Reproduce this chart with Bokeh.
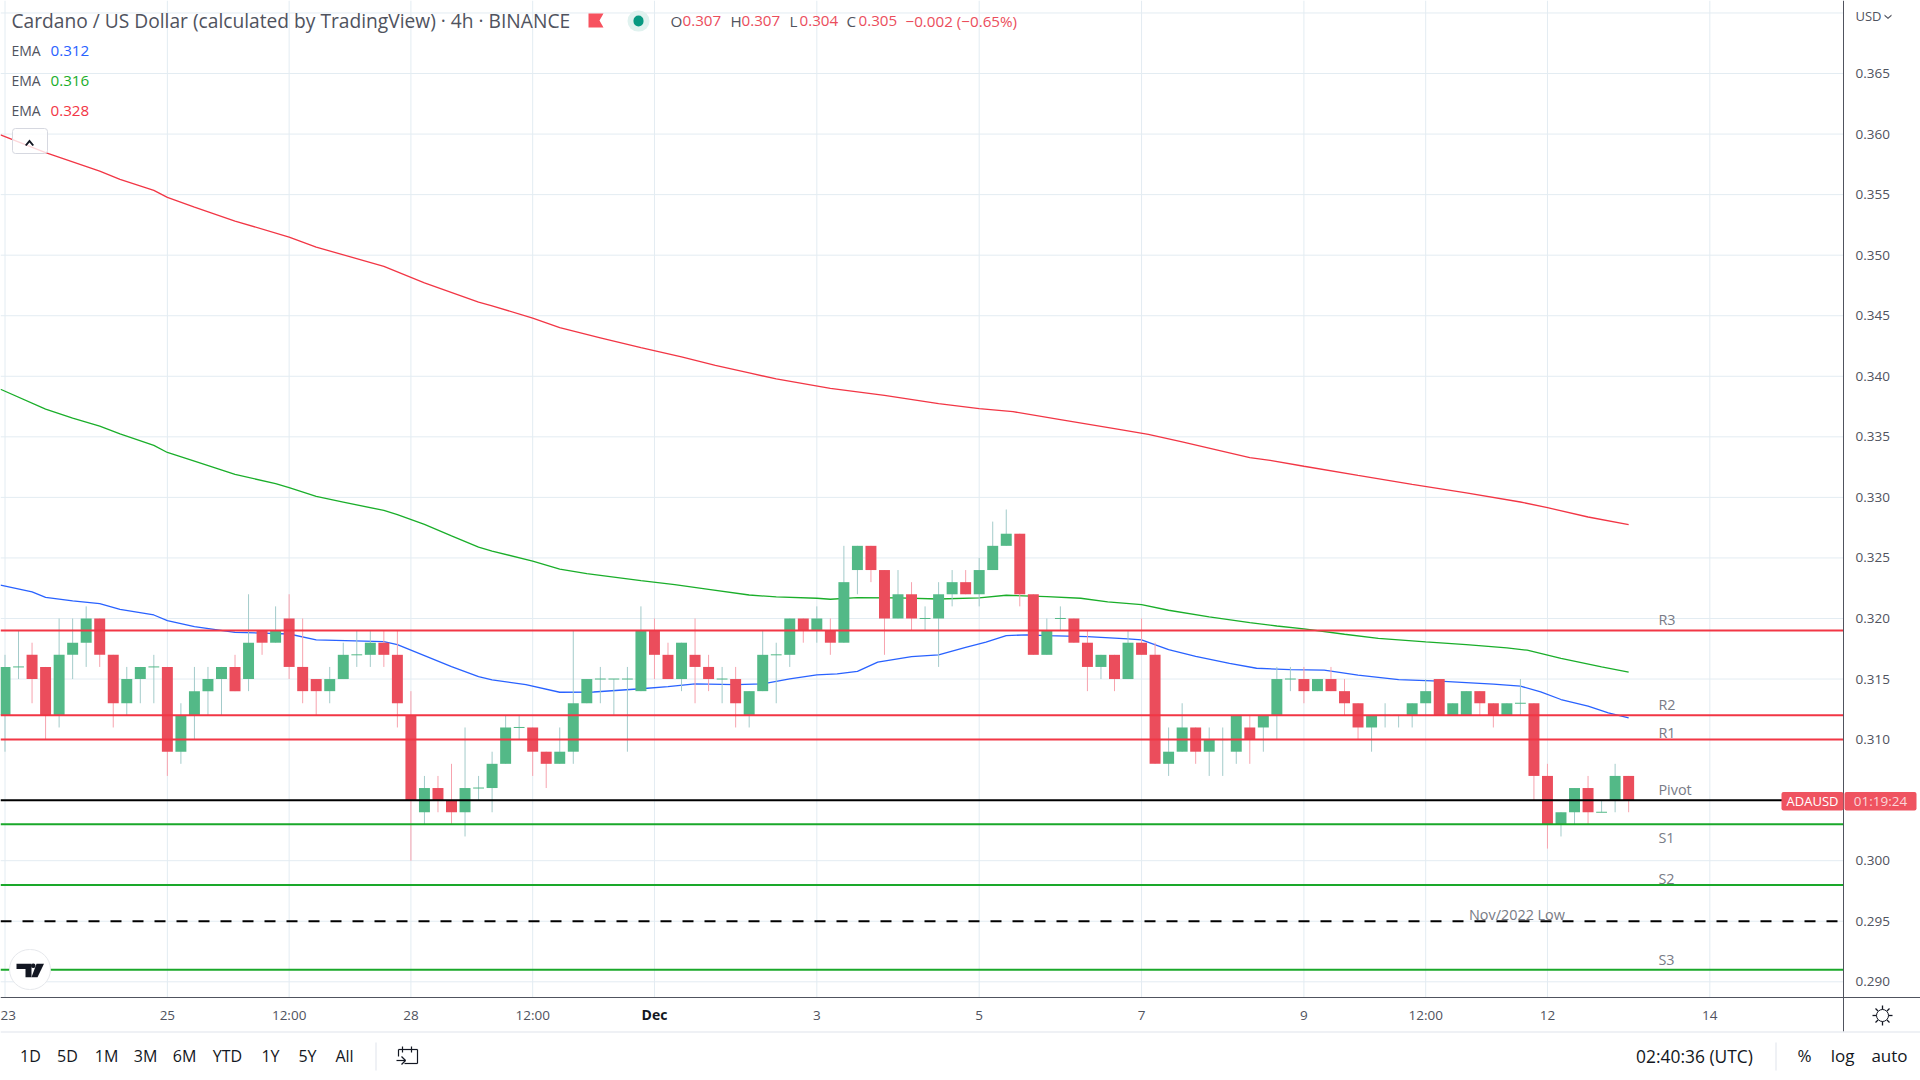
from bokeh.plotting import figure
from bokeh.models import Label, BoxAnnotation, PolyAnnotation, FixedTicker, PrintfTickFormatter
from bokeh.embed import file_html
from bokeh.resources import INLINE

# ---------- data ----------
candle_open = [.312,.316,.317,.316,.312,.317,.318,.320,.317,.313,.315,.316,.316,.309,.312,.314,.315,.316,.315,.319,.318,.320,.316,.315,.314,.315,.317,.317,.318,.317,
 .312,.304,.306,.305,.304,.306,.306,.308,.311,.311,.309,.308,.309,.313,.315,.315,.315,.314,.319,.317,.315,.317,.316,.315,.315,.312,.314,.317,.317,.320,
 .319,.319,.318,.324,.326,.324,.320,.322,.320,.320,.322,.323,.322,.324,.326,.327,.322,.317,.320,.320,.318,.316,.317,.315,.318,.317,.308,.309,.311,.309,
 .310,.309,.311,.311,.312,.315,.315,.314,.315,.314,.313,.311,.312,.312,.312,.313,.315,.312,.312,.314,.313,.312,.313,.313,.307,.303,.304,.306,.304,.305,.307]
candle_close = [.316,.316,.315,.312,.317,.318,.320,.317,.313,.315,.316,.316,.309,.312,.314,.315,.316,.314,.318,.318,.319,.316,.314,.314,.315,.317,.317,.318,.317,.313,
 .305,.306,.305,.304,.306,.306,.308,.311,.311,.309,.308,.309,.313,.315,.315,.315,.315,.319,.317,.315,.318,.316,.315,.315,.313,.314,.317,.317,.320,.319,
 .320,.318,.323,.326,.324,.320,.322,.320,.320,.322,.323,.322,.324,.326,.327,.322,.317,.319,.320,.318,.316,.317,.315,.318,.317,.308,.309,.311,.309,.310,
 .310,.312,.310,.312,.315,.315,.314,.315,.314,.313,.311,.312,.312,.312,.313,.314,.312,.313,.314,.313,.312,.313,.313,.307,.303,.304,.306,.304,.304,.307,.305]
candle_high = [.317,.319,.318,.316,.320,.320,.321,.320,.317,.316,.316,.317,.316,.313,.316,.316,.316,.317,.322,.319,.321,.322,.320,.315,.316,.318,.319,.319,.319,.319,
 .314,.307,.307,.308,.311,.307,.309,.312,.312,.311,.309,.311,.319,.315,.316,.315,.316,.321,.320,.318,.318,.320,.317,.316,.316,.314,.319,.318,.320,.320,
 .321,.320,.326,.326,.326,.324,.324,.323,.321,.323,.324,.324,.325,.328,.329,.327,.322,.320,.321,.320,.319,.317,.317,.319,.320,.318,.311,.313,.311,.311,
 .311,.312,.312,.312,.316,.316,.316,.315,.316,.315,.313,.312,.313,.312,.313,.315,.315,.313,.314,.314,.313,.313,.315,.313,.308,.304,.306,.307,.305,.308,.307]
candle_low = [.309,.315,.313,.310,.311,.315,.316,.316,.311,.312,.313,.313,.307,.308,.310,.312,.312,.314,.314,.317,.318,.315,.313,.312,.313,.315,.316,.316,.316,.311,
 .300,.303,.304,.303,.302,.305,.304,.308,.310,.307,.306,.308,.308,.313,.313,.312,.309,.314,.315,.315,.314,.313,.314,.313,.311,.311,.314,.313,.316,.318,
 .318,.317,.318,.322,.323,.317,.320,.319,.319,.316,.321,.322,.321,.324,.326,.321,.317,.317,.319,.318,.314,.315,.314,.315,.317,.308,.307,.309,.308,.307,
 .307,.308,.308,.309,.310,.314,.313,.314,.314,.312,.310,.309,.311,.311,.311,.312,.312,.312,.312,.312,.311,.312,.312,.305,.301,.302,.303,.303,.304,.304,.304]

ema_blue_x = [-0.33,2,3,5,7,8.5,11,12,14,17,21,23,28,29,31,33,35,36,38.5,41,43.5,47,49,51,54,56,58,60,61.5,63,64.5,67,69,71,72.5,74,75.5,77,80,83,84,86,88,90.5,92.5,95,97.5,100,103,106,110,112,113.5,115,117,118.5,120]
ema_blue = [.32275,.3222,.32175,.32145,.32123,.32076,.32029,.31983,.31933,.31886,.31872,.31823,.31809,.31784,.31694,.31603,.3152,.31493,.31454,.31391,.31393,.3142,.31438,.3146,.31454,.3146,.31501,.31534,.31542,.31564,.31639,.31685,.31699,.31762,.31804,.31859,.31864,.31859,.3185,.31831,.31823,.31743,.31688,.3163,.31589,.31578,.31573,.31532,.31496,.31483,.31458,.31441,.31394,.31331,.31276,.31221,.3118]
ema_green_x = [-0.33,3,5,7,8.5,11,12,14,17,20,21,23,25,28,29,31,33,35,36,39,41,43,47,49.5,52,55,57,60,61,63,66,69,72,74,77,79.5,81.5,84,86,89,92,94,96,99,101.5,105,108,111,112.5,115,118,120]
ema_green = [.33893,.33729,.33655,.33589,.33525,.33429,.33371,.333,.3319,.33113,.3308,.33008,.32961,.32892,.32857,.32777,.32683,.3259,.32557,.32474,.32408,.3237,.32312,.3228,.32241,.32194,.32178,.32167,.32159,.32172,.3217,.32161,.3217,.32192,.32181,.32167,.32137,.32114,.32068,.32013,.31966,.31938,.31915,.3187,.31835,.31807,.31785,.31758,.31738,.3167,.31601,.31557]
ema_red_x = [-0.33,3,7,8.5,11,12,14,17,21,23,28,31,35,36,39,41,44,47,50,52.5,55,57,61,65,69,72,74.5,78,82,84.5,87,92,93.5,96,100,104,108,112,114,117,120]
ema_red = [.35994,.35846,.35694,.35626,.35535,.35477,.35397,.35282,.35149,.35067,.34907,.34772,.34613,.34582,.3448,.34401,.34318,.34236,.3416,.34091,.34028,.33978,.33901,.33843,.33774,.33733,.33708,.33642,.33568,.33521,.33458,.33328,.33306,.33257,.33182,.33108,.33037,.32962,.32915,.32838,.32775]

level_red = [.319,.312,.310]
level_black = [.305]
level_green = [.303,.298,.291]
level_dashed = [.295]
level_names = ["R3","R2","R1","Pivot","S1","S2","S3","Nov/2022 Low"]
level_name_x = [122.2,122.2,122.2,122.2,122.2,122.2,122.2,108.2]
level_name_y = [.31988,.31292,.31058,.30584,.30188,.29851,.29182,.29552]

x_tick_pos = [0,12,21,30,39,48,60,72,84,96,105,114,126]
x_tick_txt = ["23","25","12:00","28","12:00","","3","5","7","9","12:00","12","14"]
y_tick_pos = [.290,.295,.300,.305,.310,.315,.320,.325,.330,.335,.340,.345,.350,.355,.360,.365]
y_grid_pos = y_tick_pos+[.370]
range_buttons = ["1D","5D","1M","3M","6M","YTD","1Y","5Y","All"]
range_button_px = [30,67,106,145,184,227,270,307,344]

UP="#53b987"; DOWN="#eb4d5c"; UPW="#a3cbca"; DOWNW="#f7a3ae"
LINE_RED="#f23645"; LINE_GREEN="#1aa82a"; GRID="#e3ecf2"; AXIS="#50535e"; MUTED="#787b86"; DARK="#131722"; BADGE="#ef5360"
FONT="Open Sans"

# the frame fills the page; scales keep 13.53 px per bar and 12110 px per dollar
X_LEFT,X_AXIS,X_RIGHT=-0.3326,135.88,141.57
Y_TOP,Y_AXIS,Y_SEP,Y_BOTTOM=.37103,.28870,.2859,.28185

p=figure(width=1920,height=1080,output_backend="svg",toolbar_location=None,
         x_range=(X_LEFT,X_RIGHT),y_range=(Y_BOTTOM,Y_TOP),
         min_border=0,background_fill_color="white",outline_line_color=None,y_axis_location="right")

# axes
xa=p.xaxis[0]; ya=p.yaxis[0]
xa.fixed_location=Y_AXIS; ya.fixed_location=X_AXIS
ya.bounds=(Y_SEP,Y_TOP)
xa.ticker=FixedTicker(ticks=x_tick_pos)
xa.major_label_overrides={k:v for k,v in zip(x_tick_pos,x_tick_txt)}
ya.ticker=FixedTicker(ticks=y_tick_pos)
ya.formatter=PrintfTickFormatter(format="%.3f")
for a in (xa,ya):
    a.major_tick_line_color=None; a.minor_tick_line_color=None
    a.axis_line_color=AXIS; a.axis_line_width=1
    a.major_label_text_font=FONT; a.major_label_text_font_size="13.5px"; a.major_label_text_color=AXIS
xa.major_label_standoff=2; ya.major_label_standoff=6
p.grid.grid_line_color=None

# grid limited to the pane
p.segment(x_tick_pos,[Y_AXIS]*len(x_tick_pos),x_tick_pos,[Y_TOP]*len(x_tick_pos),line_color=GRID,line_width=1)
p.segment([X_LEFT]*len(y_grid_pos),y_grid_pos,[X_AXIS]*len(y_grid_pos),y_grid_pos,line_color=GRID,line_width=1)

# EMAs below candles
p.line(ema_blue_x,ema_blue,line_color="#2962ff",line_width=1.3)
p.line(ema_green_x,ema_green,line_color="#1aae2a",line_width=1.3)
p.line(ema_red_x,ema_red,line_color="#f23645",line_width=1.3)

# candles
n=len(candle_open); idx=list(range(n))
wick_col=[UPW if c>=o else DOWNW for o,c in zip(candle_open,candle_close)]
p.segment(idx,candle_low,idx,candle_high,line_color=wick_col,line_width=1)
bars=[i for i in idx if candle_open[i]!=candle_close[i]]
p.vbar(bars,width=.81,
       top=[max(candle_open[i],candle_close[i]) for i in bars],
       bottom=[min(candle_open[i],candle_close[i]) for i in bars],
       fill_color=[UP if candle_close[i]>candle_open[i] else DOWN for i in bars],line_color=None)
doji=[i for i in idx if candle_open[i]==candle_close[i]]
p.segment([i-.4 for i in doji],[candle_open[i] for i in doji],[i+.4 for i in doji],[candle_open[i] for i in doji],line_color=UP,line_width=1)

# horizontal levels on top
def hlevels(vals,color):
    return p.segment([X_LEFT]*len(vals),vals,[X_AXIS]*len(vals),vals,line_color=color,line_width=2)
hlevels(level_red,LINE_RED)
hlevels(level_black,"black")
hlevels(level_green,LINE_GREEN)
hlevels(level_dashed,"black").glyph.line_dash=[11,11]

for t,x,y in zip(level_names,level_name_x,level_name_y):
    p.add_layout(Label(x=x,y=y,text=t,text_font=FONT,text_font_size="14.4px",text_color=MUTED,text_baseline="middle"))

# helpers: page pixels -> frame "screen" coordinates
H=1080
def sy(v): return H-v
def txt(x,y,t,color=DARK,size=14,align="left",style="normal"):
    p.add_layout(Label(x=x,y=sy(y-1),x_units="screen",y_units="screen",text=t,text_color=color,level="overlay",
        text_font=FONT,text_font_size=f"{size}px",text_align=align,text_baseline="middle",text_font_style=style))
def box(l,t,r,b,fill=None,line=None,radius=0,alpha=1.0):
    p.add_layout(BoxAnnotation(left=l,right=r,top=sy(t),bottom=sy(b),left_units="screen",right_units="screen",
        top_units="screen",bottom_units="screen",fill_color=fill,fill_alpha=alpha if fill else 0,
        line_color=line,line_alpha=1 if line else 0,line_width=1,border_radius=radius,level="overlay"))
def poly(pts,fill=None,line=None,lw=1):
    p.add_layout(PolyAnnotation(xs=[a for a,b in pts],ys=[sy(b) for a,b in pts],xs_units="screen",ys_units="screen",
        fill_color=fill,fill_alpha=1 if fill else 0,line_color=line,line_alpha=1 if line else 0,line_width=lw,level="overlay"))

# legend
txt(11,21,"Cardano / US Dollar (calculated by TradingView) · 4h · BINANCE","#50535e",19.2)
poly([(588,13),(603,13),(599,20),(603,27),(588,27)],fill="#f7525f")
box(627,10,649,31,fill="#e0f2ef",radius=11); box(633,15,643,26,fill="#089981",radius=5)
for x,t,c in [(670,"O","#50535e"),(682,"0.307",DOWN),(730,"H","#50535e"),(741,"0.307",DOWN),(789,"L","#50535e"),(799,"0.304",DOWN),(846,"C","#50535e"),(858,"0.305",DOWN),(905,"−0.002 (−0.65%)",DOWN)]:
    txt(x,21,t,c,15.2)
for y,v,c in [(51,"0.312","#2962ff"),(81,"0.316","#1aae2a"),(111,"0.328",LINE_RED)]:
    txt(11,y,"EMA","#50535e",14); txt(50,y,v,c,15.2)
box(12,128,47,153,fill="white",line="#d6d8e0",radius=3,alpha=.8)
poly([(29,139),(24.5,144.5),(26,145.5),(29,142),(32,145.5),(33.5,144.5)],fill=DARK)

# x axis extra
txt(654,1014.7,"Dec",DARK,14,"center","bold")

# price-scale extras
txt(1855,16,"USD",AXIS,13)
poly([(1884,14),(1887.5,17),(1891,14),(1891,15.5),(1887.5,18.5),(1884,15.5)],fill=AXIS)

# badges
box(1781,791.5,1843,810,fill=BADGE,radius=2)
box(1844,791.5,1916,810,fill=BADGE,radius=2)
txt(1812,801,"ADAUSD","white",13,"center")
txt(1880,801,"01:19:24","#fbd6da",13.5,"center")

# chrome lines
box(0,1031,1920,1032,fill="#e0e3eb")
box(375,1042,376,1070,fill="#e0e3eb")
box(1775,1042,1776,1070,fill="#e0e3eb")

# logo button
box(9,949,50,989,fill="white",line="#e6e8ec",radius=20)
poly([(16,963.3),(31,963.3),(31,976.7),(25,976.7),(25,968.5),(16,968.5)],fill=DARK)
box(30.5,963,35,967.5,fill=DARK,radius=2)
poly([(36,963.3),(43.5,963.3),(37,976.7),(31,976.7)],fill=DARK)

# gear
box(1876,1009,1888,1021,line=DARK,radius=6)
for a,b,c,d in [(1882,1005,1882,1009),(1882,1021,1882,1025),(1872,1015,1876,1015),(1888,1015,1892,1015),
                (1875,1008,1877.5,1010.5),(1889,1008,1886.5,1010.5),(1875,1022,1877.5,1019.5),(1889,1022,1886.5,1019.5)]:
    poly([(a,b),(c,d)],line=DARK,lw=1.3)

# calendar icon
for a,b,c,d in [(398,1049,417,1049),(398,1049,398,1056),(417,1049,417,1063),(404,1063,417,1063),
                (402,1046,402,1052),(411,1046,411,1052),(396,1060,405,1060),(401,1056,405,1060),(405,1060,401,1064)]:
    poly([(a,b),(c,d)],line=DARK,lw=1.2)

# bottom bar
for t,x in zip(range_buttons,range_button_px):
    txt(x,1056,t,DARK,16,"center")
txt(1694,1056,"02:40:36 (UTC)",DARK,17.4,"center")
txt(1804,1056,"%",DARK,17,"center"); txt(1842,1056,"log",DARK,17,"center"); txt(1889,1056,"auto",DARK,17,"center")

open("out.html","w").write(file_html(p,INLINE))
